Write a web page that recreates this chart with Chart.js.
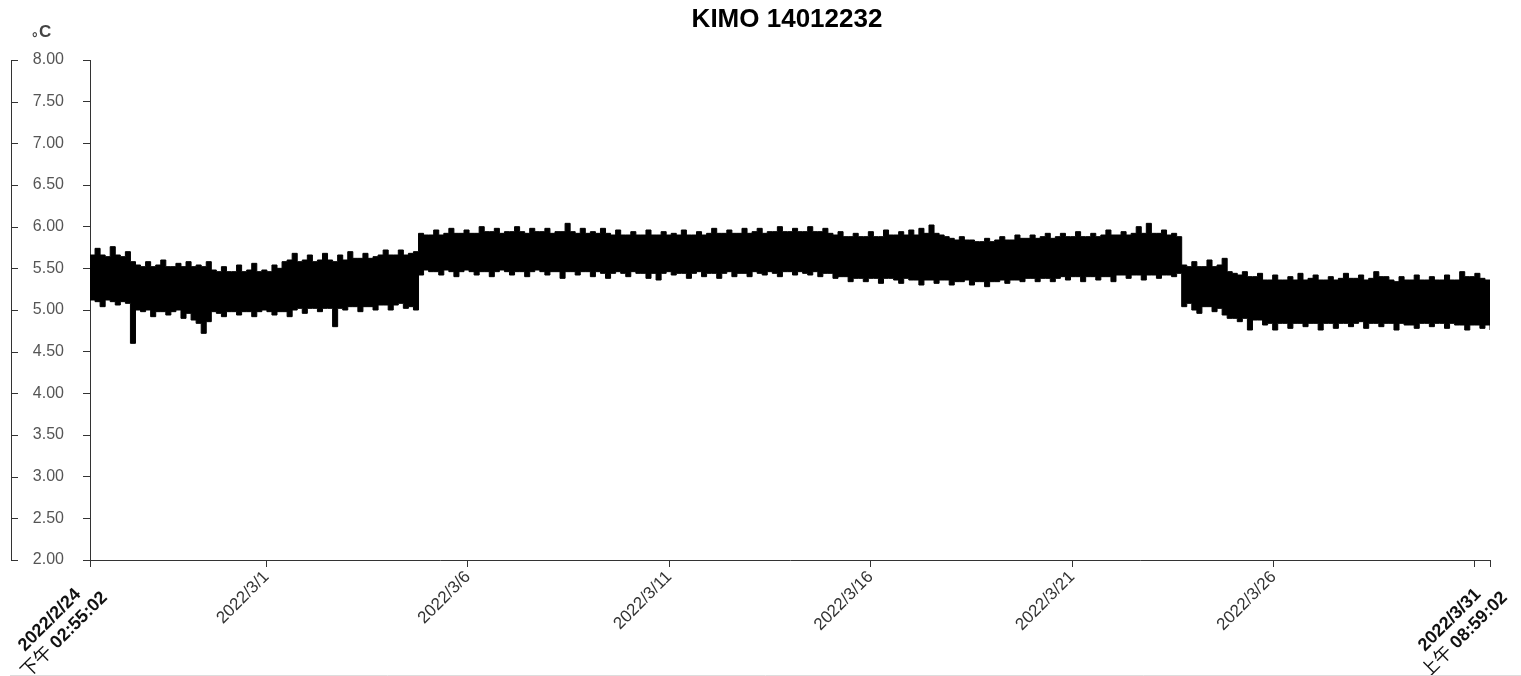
<!DOCTYPE html>
<html>
<head>
<meta charset="utf-8">
<title>KIMO 14012232</title>
<script src="https://cdn.jsdelivr.net/npm/chart.js@4.4.1/dist/chart.umd.min.js"></script>
<style>
  html, body { margin: 0; padding: 0; background: #fff; }
  canvas { display: block; }
</style>
</head>
<body>
<canvas id="myChart" width="1521" height="676"></canvas>
<script>
const ctx = document.getElementById('myChart');

// Titulo y unidad
const chartTitle = 'KIMO 14012232';
const unitLabel = '°C';

// Tiempo total del registro: 2022/2/24 14:55:02 -> 2022/3/31 08:59:02 (en horas)
const totalHours = 834.0667;

// Ticks del eje X (horas desde el inicio) y sus etiquetas
const xTickHours = [0, 105.083, 225.083, 345.083, 465.083, 585.083, 705.083, 825.083, 834.0667];
const xTickLabels = [
    ['2022/2/24', '下午', '02:55:02'],
    '2022/3/1', '2022/3/6', '2022/3/11', '2022/3/16', '2022/3/21', '2022/3/26',
    '',
    ['2022/3/31', '上午', '08:59:02']
];

// Eje Y
const yMin = 2;
const yMax = 8;
const yStep = 0.5;

// Maximo de temperatura en cada intervalo (~3 h)
const upperC = [
    5.66, 5.74, 5.66, 5.64, 5.76, 5.66, 5.64, 5.70, 5.58, 5.54,
    5.52, 5.58, 5.52, 5.54, 5.60, 5.52, 5.52, 5.56, 5.52, 5.58,
    5.52, 5.54, 5.52, 5.58, 5.48, 5.46, 5.52, 5.46, 5.46, 5.54,
    5.46, 5.48, 5.56, 5.46, 5.48, 5.46, 5.54, 5.50, 5.58, 5.60,
    5.68, 5.58, 5.60, 5.66, 5.58, 5.60, 5.68, 5.60, 5.58, 5.66,
    5.60, 5.70, 5.62, 5.62, 5.68, 5.62, 5.64, 5.66, 5.72, 5.66,
    5.66, 5.72, 5.66, 5.68, 5.70,
    5.92, 5.90, 5.90, 5.96, 5.90, 5.92, 5.98, 5.92, 5.92, 5.96,
    5.92, 5.92, 6.00, 5.94, 5.94, 5.98, 5.92, 5.94, 5.94, 6.00,
    5.94, 5.92, 5.98, 5.94, 5.94, 5.98, 5.92, 5.94, 5.94, 6.04,
    5.94, 5.92, 5.98, 5.92, 5.94, 5.92, 5.98, 5.92, 5.90, 5.96,
    5.90, 5.90, 5.94, 5.90, 5.90, 5.96, 5.90, 5.90, 5.94, 5.90,
    5.92, 5.90, 5.96, 5.90, 5.90, 5.94, 5.90, 5.92, 5.98, 5.92,
    5.92, 5.96, 5.92, 5.92, 5.98, 5.92, 5.94, 5.98, 5.92, 5.94,
    5.94, 6.00, 5.94, 5.94, 5.98, 5.94,
    5.94, 6.00, 5.94, 5.94, 5.98, 5.92, 5.90, 5.94, 5.88, 5.88,
    5.92, 5.88, 5.88, 5.94, 5.88, 5.88, 5.96, 5.90, 5.90, 5.94,
    5.90, 5.96, 5.90, 5.98, 5.92, 6.02, 5.92, 5.90, 5.88, 5.86,
    5.84, 5.88, 5.84, 5.84, 5.82, 5.82, 5.86, 5.82, 5.84, 5.88,
    5.84, 5.84, 5.90, 5.86, 5.86, 5.90, 5.86, 5.88, 5.92, 5.86,
    5.88, 5.92, 5.88, 5.88, 5.94, 5.88, 5.88, 5.92, 5.88, 5.90,
    5.96, 5.90, 5.90, 5.94, 5.90, 5.92, 6.00, 5.92, 6.04, 5.92,
    5.92, 5.96, 5.90, 5.92, 5.88,
    5.54, 5.52, 5.58, 5.52, 5.52, 5.60, 5.52, 5.54, 5.62, 5.46,
    5.44, 5.42, 5.46, 5.40, 5.40, 5.44, 5.36, 5.36, 5.42, 5.36,
    5.36, 5.40, 5.36, 5.44, 5.36, 5.38, 5.42, 5.36, 5.36, 5.40,
    5.36, 5.38, 5.44, 5.38, 5.38, 5.42, 5.36, 5.38, 5.46, 5.40,
    5.40, 5.36, 5.34, 5.40, 5.36, 5.36, 5.42, 5.36, 5.36, 5.40,
    5.36, 5.36, 5.42, 5.36, 5.36, 5.46, 5.40, 5.40, 5.44, 5.38,
    5.36, 5.32
];

// Minimo de temperatura en cada intervalo
const lowerC = [
    5.12, 5.10, 5.04, 5.12, 5.10, 5.06, 5.10, 5.08, 4.60, 5.00,
    4.98, 5.00, 4.92, 4.98, 4.98, 4.94, 4.98, 5.00, 4.90, 4.96,
    4.88, 4.84, 4.72, 4.86, 4.98, 4.96, 4.92, 4.98, 4.98, 4.94,
    4.98, 4.98, 4.92, 4.98, 5.00, 4.98, 4.94, 4.98, 4.98, 4.92,
    5.00, 5.02, 4.96, 5.02, 5.02, 4.98, 5.02, 5.02, 4.80, 5.02,
    5.00, 5.04, 5.04, 4.98, 5.04, 5.04, 5.00, 5.06, 5.06, 5.00,
    5.06, 5.08, 5.02, 5.04, 5.00,
    5.42, 5.48, 5.46, 5.46, 5.42, 5.48, 5.46, 5.40, 5.46, 5.48,
    5.46, 5.42, 5.46, 5.46, 5.40, 5.46, 5.48, 5.46, 5.42, 5.46,
    5.46, 5.40, 5.46, 5.48, 5.46, 5.42, 5.46, 5.46, 5.38, 5.46,
    5.46, 5.42, 5.46, 5.46, 5.40, 5.46, 5.44, 5.38, 5.44, 5.46,
    5.44, 5.40, 5.46, 5.44, 5.44, 5.38, 5.44, 5.36, 5.44, 5.46,
    5.42, 5.44, 5.44, 5.38, 5.44, 5.46, 5.40, 5.44, 5.44, 5.38,
    5.44, 5.46, 5.40, 5.44, 5.44, 5.40, 5.46, 5.44, 5.42, 5.46,
    5.44, 5.40, 5.46, 5.46, 5.42, 5.46,
    5.44, 5.42, 5.46, 5.40, 5.44, 5.44, 5.38, 5.40, 5.40, 5.34,
    5.38, 5.38, 5.34, 5.38, 5.38, 5.32, 5.38, 5.38, 5.36, 5.32,
    5.38, 5.36, 5.36, 5.30, 5.36, 5.36, 5.32, 5.36, 5.36, 5.30,
    5.34, 5.34, 5.36, 5.30, 5.34, 5.34, 5.28, 5.34, 5.34, 5.36,
    5.32, 5.36, 5.36, 5.34, 5.38, 5.38, 5.34, 5.38, 5.38, 5.34,
    5.38, 5.40, 5.36, 5.40, 5.40, 5.34, 5.40, 5.40, 5.36, 5.40,
    5.40, 5.34, 5.42, 5.42, 5.38, 5.42, 5.42, 5.36, 5.42, 5.42,
    5.38, 5.42, 5.42, 5.40, 5.44,
    5.04, 5.08, 5.00, 4.96, 5.04, 5.04, 4.98, 5.02, 4.94, 4.90,
    4.90, 4.86, 4.90, 4.76, 4.88, 4.88, 4.82, 4.84, 4.76, 4.84,
    4.84, 4.78, 4.84, 4.84, 4.80, 4.84, 4.84, 4.76, 4.84, 4.84,
    4.78, 4.84, 4.84, 4.80, 4.84, 4.86, 4.78, 4.84, 4.84, 4.80,
    4.84, 4.84, 4.76, 4.84, 4.82, 4.82, 4.78, 4.84, 4.84, 4.80,
    4.84, 4.84, 4.78, 4.84, 4.82, 4.82, 4.76, 4.82, 4.82, 4.78,
    4.82, 4.76
];

const fuente = "'Liberation Sans', Arial, 'Noto Sans CJK SC', sans-serif";
Chart.defaults.font.family = fuente;

// Los intervalos estan repartidos igual entre inicio y fin
const paso = totalHours / (upperC.length - 1);
const puntosMax = upperC.map((v, i) => ({ x: i * paso, y: v }));
const puntosMin = lowerC.map((v, i) => ({ x: i * paso, y: v }));

const esExtremo = (i) => Array.isArray(xTickLabels[i]);

// Etiquetas de inicio/fin: fecha en negrita, AM/PM normal, hora en negrita
const dibujarExtremo = (c, px, py, partes) => {
    c.save();
    c.translate(px, py);
    c.rotate(-Math.PI / 4);
    c.fillStyle = '#111';
    c.textBaseline = 'alphabetic';
    c.textAlign = 'left';
    const centro = -66;
    const negrita = 'bold 18px ' + fuente;
    const normal = '18px ' + fuente;

    c.font = negrita;
    const w1 = c.measureText(partes[0]).width;
    c.fillText(partes[0], centro - w1 / 2, 14);

    c.font = normal;
    const wAmPm = c.measureText(partes[1] + ' ').width;
    c.font = negrita;
    const wHora = c.measureText(partes[2]).width;
    const inicio = centro - (wAmPm + wHora) / 2;
    c.font = normal;
    c.fillText(partes[1] + ' ', inicio, 35);
    c.font = negrita;
    c.fillText(partes[2], inicio + wAmPm, 35);
    c.restore();
};

// Dibuja titulo, unidad, corchete izquierdo, etiquetas extremas y linea gris inferior
const decoracion = {
    id: 'decoracion',
    afterDraw: (chart) => {
        const c = chart.ctx;
        const area = chart.chartArea;
        const yScale = chart.scales.y;
        const xScale = chart.scales.x;
        c.save();

        c.fillStyle = '#000';
        c.font = 'bold 26px ' + fuente;
        c.textAlign = 'center';
        c.textBaseline = 'alphabetic';
        c.fillText(chartTitle, (area.left + area.right) / 2 - 3, 27);

        // unidad: el grado aparece abajo, junto a la C
        c.fillStyle = '#444';
        c.textAlign = 'left';
        c.font = 'bold 14px ' + fuente;
        c.fillText(unitLabel[0], 32, 43);
        c.font = 'bold 17px ' + fuente;
        c.fillText(unitLabel.slice(1), 39, 37);

        c.strokeStyle = '#333';
        c.lineWidth = 1;
        c.beginPath();
        c.moveTo(11.5, yScale.getPixelForValue(yMax));
        c.lineTo(11.5, yScale.getPixelForValue(yMin) + 1);
        yScale.ticks.forEach(t => {
            const py = Math.round(yScale.getPixelForValue(t.value)) + 0.5;
            c.moveTo(11.5, py);
            c.lineTo(18, py);
        });
        c.stroke();

        xTickHours.forEach((h, i) => {
            if (esExtremo(i)) {
                dibujarExtremo(c, xScale.getPixelForValue(h), area.bottom + 7, xTickLabels[i]);
            }
        });

        c.strokeStyle = '#ddd';
        c.beginPath();
        c.moveTo(10, 675.5);
        c.lineTo(1521, 675.5);
        c.stroke();
        c.restore();
    }
};

const crearGrafico = () => {
    new Chart(ctx, {
        type: 'line',
        data: {
            datasets: [{
                label: 'max',
                data: puntosMax,
                borderColor: '#000',
                backgroundColor: '#000',
                borderWidth: 1,
                pointRadius: 0,
                stepped: true,
                fill: '+1'
            }, {
                label: 'min',
                data: puntosMin,
                borderColor: '#000',
                backgroundColor: '#000',
                borderWidth: 1,
                pointRadius: 0,
                stepped: true,
                fill: false
            }]
        },
        options: {
            responsive: false,
            animation: false,
            layout: { padding: { top: 60, right: 31, left: 0, bottom: 0 } },
            plugins: {
                legend: { display: false },
                tooltip: { enabled: false },
                title: { display: false }
            },
            scales: {
                x: {
                    type: 'linear',
                    min: 0,
                    max: totalHours,
                    afterBuildTicks: (scale) => {
                        scale.ticks = xTickHours.map(v => ({ value: v }));
                    },
                    afterFit: (scale) => { scale.height = 116; },
                    border: { display: true, color: '#333', width: 1 },
                    grid: { drawOnChartArea: false, drawTicks: true, tickLength: 7, color: '#333' },
                    ticks: {
                        autoSkip: false,
                        maxRotation: 45,
                        minRotation: 45,
                        padding: 0,
                        color: '#333',
                        font: { size: 17 },
                        callback: (v, i) => esExtremo(i) ? '' : xTickLabels[i]
                    }
                },
                y: {
                    min: yMin,
                    max: yMax,
                    afterFit: (scale) => { scale.width = 90; },
                    border: { display: true, color: '#333', width: 1 },
                    grid: { drawOnChartArea: false, drawTicks: true, tickLength: 7, color: '#333' },
                    ticks: {
                        stepSize: yStep,
                        padding: 19,
                        color: '#555',
                        font: { size: 16 },
                        callback: (v) => Number(v).toFixed(2)
                    }
                }
            }
        },
        plugins: [decoracion]
    });
};

crearGrafico();
</script>
</body>
</html>
